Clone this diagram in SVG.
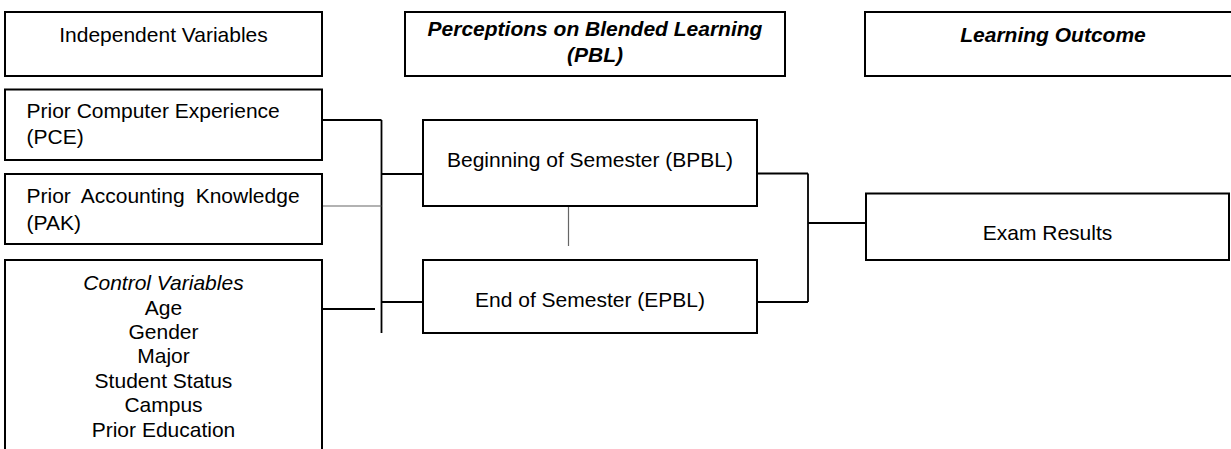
<svg xmlns="http://www.w3.org/2000/svg" width="1231" height="449" viewBox="0 0 1231 449">
<style>
.box{fill:#fff;stroke:#000;stroke-width:2}
.t{font-family:"Liberation Sans",Arial,sans-serif;font-size:21px;fill:#000}
.c{text-anchor:middle}
.bi{font-weight:bold;font-style:italic}
.ln{stroke:#000;stroke-width:1.8;fill:none}
.lg{stroke:#666;stroke-width:1.2;fill:none}
</style>
<rect width="1231" height="449" fill="#fff"/>
<g id="connectors">
<path class="ln" d="M322 120 H381.5 M381.5 120 V333 M381.5 174 H423 M381.5 302 H423 M322 309 H375"/>
<path class="lg" d="M322 206 H381.5 M568.5 206 V246"/>
<path class="ln" d="M757 173.5 H808 M757 302 H808 M808 173.5 V302 M808 223 H866"/>
</g>
<g id="independent-variables">
<rect class="box" x="5" y="12" width="317" height="64"/>
<text class="t c" x="163.5" y="42">Independent Variables</text>
</g>
<g id="pbl">
<rect class="box" x="405" y="12" width="380" height="64"/>
<text class="t c bi" x="595" y="36">Perceptions on Blended Learning</text>
<text class="t c bi" x="595" y="62">(PBL)</text>
</g>
<g id="learning-outcome">
<rect class="box" x="865" y="12" width="380" height="64"/>
<text class="t c bi" x="1053" y="42">Learning Outcome</text>
</g>
<g id="pce">
<rect class="box" x="5" y="89.5" width="317" height="70.5"/>
<text class="t" x="26.5" y="118">Prior Computer Experience</text>
<text class="t" x="26.5" y="144">(PCE)</text>
</g>
<g id="pak">
<rect class="box" x="5" y="174" width="317" height="70"/>
<text class="t" x="26.5" y="203" word-spacing="5.2">Prior Accounting Knowledge</text>
<text class="t" x="26.5" y="230">(PAK)</text>
</g>
<g id="control-variables">
<path class="box" d="M5 460 V260 H322 V460"/>
<text class="t c" x="163.5" y="290" font-style="italic">Control Variables</text>
<text class="t c" x="163.5" y="314.5">Age</text>
<text class="t c" x="163.5" y="339">Gender</text>
<text class="t c" x="163.5" y="363.3">Major</text>
<text class="t c" x="163.5" y="387.7">Student Status</text>
<text class="t c" x="163.5" y="412.1">Campus</text>
<text class="t c" x="163.5" y="436.5">Prior Education</text>
</g>
<g id="bpbl">
<rect class="box" x="423" y="120" width="334" height="86"/>
<text class="t c" x="590" y="167">Beginning of Semester (BPBL)</text>
</g>
<g id="epbl">
<rect class="box" x="423" y="260" width="334" height="73"/>
<text class="t c" x="590" y="306.5">End of Semester (EPBL)</text>
</g>
<g id="exam-results">
<rect class="box" x="866" y="193.5" width="363" height="66.5"/>
<text class="t c" x="1047.5" y="240">Exam Results</text>
</g>
</svg>
